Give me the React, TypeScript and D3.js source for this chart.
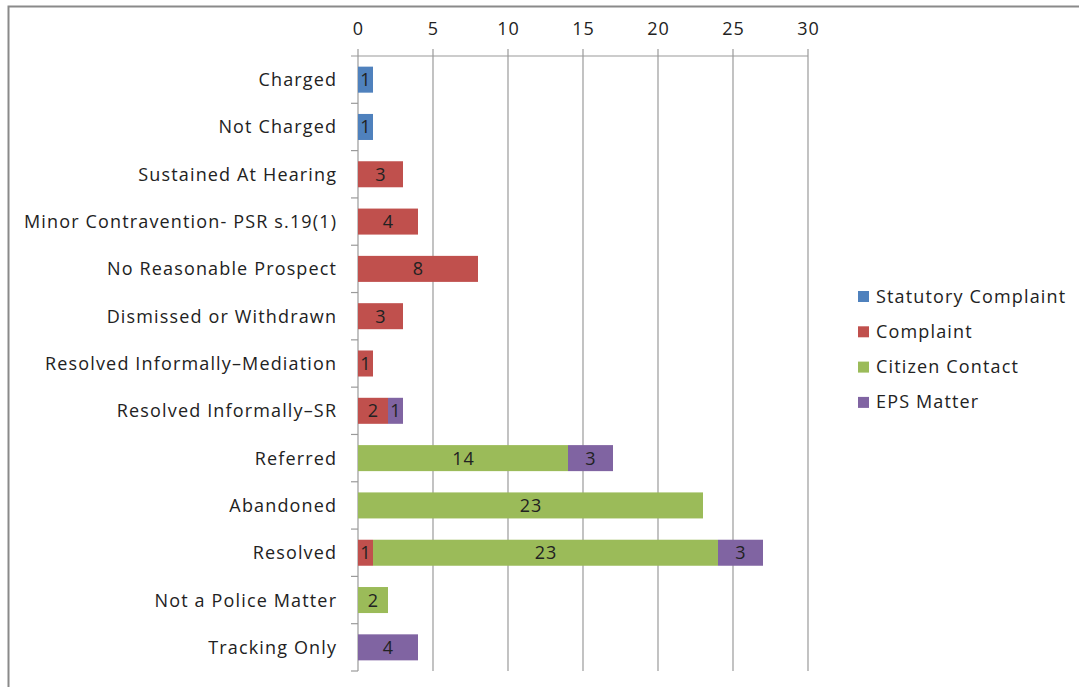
import React from "react";
import * as d3 from "d3";

const categories = [
  "Charged",
  "Not Charged",
  "Sustained At Hearing",
  "Minor Contravention- PSR s.19(1)",
  "No Reasonable Prospect",
  "Dismissed or Withdrawn",
  "Resolved Informally\u2013Mediation",
  "Resolved Informally\u2013SR",
  "Referred",
  "Abandoned",
  "Resolved",
  "Not a Police Matter",
  "Tracking Only",
];
const seriesNames = ["Statutory Complaint", "Complaint", "Citizen Contact", "EPS Matter"];
const statutory = [1, 1, 0, 0, 0, 0, 0, 0, 0, 0, 0, 0, 0];
const complaint = [0, 0, 3, 4, 8, 3, 1, 2, 0, 0, 1, 0, 0];
const citizen = [0, 0, 0, 0, 0, 0, 0, 0, 14, 23, 23, 2, 0];
const eps = [0, 0, 0, 0, 0, 0, 0, 1, 3, 0, 3, 0, 4];
const xTicks = [0, 5, 10, 15, 20, 25, 30];
const colors = ["#4F81BD", "#C0504D", "#9BBB59", "#8064A2"];

const W = 1079;
const H = 687;
const left = 358;
const right = 808;
const top = 56;
const bottom = 671;
const font = "'Open Sans', 'Noto Sans', sans-serif";
const fs = 18;
const ls = 1.15;

export default function App() {
  const x = d3.scaleLinear().domain([0, 30]).range([left, right]);
  const y = d3.scaleBand().domain(categories).range([top, bottom]).paddingInner(0.45).paddingOuter(0.225);
  const yOuter = d3.scaleBand().domain(categories).range([top, bottom]);
  const data = categories.map((c, i) => ({
    cat: c,
    vals: [statutory[i], complaint[i], citizen[i], eps[i]],
  }));
  const stack = d3.stack<any>().keys(["0", "1", "2", "3"]).value((d: any, k: string) => d.vals[+k]);
  const series = stack(data as any);

  return (
    <svg width={W} height={H} style={{ position: "absolute", left: 0, top: 0, background: "#fff" }}>
      <rect x={8.5} y={6.5} width={1100} height={700} fill="#fff" stroke="#8a8a8a" strokeWidth={2} />
      {xTicks.map((t) => (
        <g key={t}>
          <line x1={x(t)} x2={x(t)} y1={49} y2={bottom} stroke="#9a9a9a" strokeWidth={1.2} />
          <text x={x(t) + ls / 2} y={35} textAnchor="middle" fontFamily={font} fontSize={fs} letterSpacing={ls} fill="#222">
            {t}
          </text>
        </g>
      ))}
      <line x1={351} x2={right} y1={top} y2={top} stroke="#9a9a9a" strokeWidth={1.2} />
      {categories.map((c, i) => (
        <line key={"tk" + i} x1={351} x2={left} y1={yOuter(c)! + yOuter.bandwidth()} y2={yOuter(c)! + yOuter.bandwidth()} stroke="#9a9a9a" strokeWidth={1.2} />
      ))}
      {series.map((s, si) =>
        s.map((d: any, i: number) => {
          const v = d[1] - d[0];
          if (!v) return null;
          const bx = x(d[0]);
          const bw = x(d[1]) - x(d[0]);
          const by = y(categories[i])!;
          return (
            <g key={si + "-" + i}>
              <rect x={bx} y={by} width={bw} height={y.bandwidth()} fill={colors[si]} />
              <text
                x={bx + bw / 2 + ls / 2}
                y={by + y.bandwidth() / 2 + 6.5}
                textAnchor="middle"
                fontFamily={font}
                fontSize={fs}
                letterSpacing={ls}
                fill="#222"
              >
                {v}
              </text>
            </g>
          );
        })
      )}
      {categories.map((c) => (
        <text
          key={c}
          x={336 + ls}
          y={yOuter(c)! + yOuter.bandwidth() / 2 + 6.5}
          textAnchor="end"
          fontFamily={font}
          fontSize={fs}
          letterSpacing={ls}
          fill="#222"
        >
          {c}
        </text>
      ))}
      {seriesNames.map((n, i) => (
        <g key={n} transform={`translate(858, ${296 + i * 35.3})`}>
          <rect x={0} y={-5} width={11} height={11} fill={colors[i]} />
          <text x={18} y={6.5} fontFamily={font} fontSize={fs} letterSpacing={ls} fill="#222">
            {n}
          </text>
        </g>
      ))}
    </svg>
  );
}
